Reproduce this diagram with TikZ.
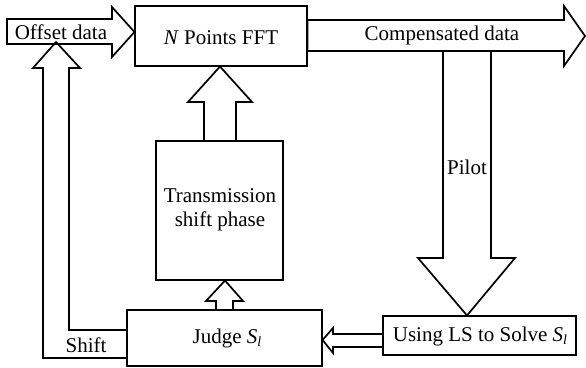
\documentclass[tikz,border=0pt]{standalone}
\usepackage{fontspec}
\setmainfont{Liberation Serif}
\newcommand{\Sl}{\textit{S}\raisebox{-0.35ex}{\fontsize{14}{14}\selectfont\textit{l}}}
\begin{document}
\begin{tikzpicture}[x=1pt,y=-1pt,
  box/.style={draw,line width=1.1pt,rectangle,inner sep=0pt,fill=white},
  blockarrow/.style={draw,line width=1.7pt,line join=miter,fill=white},
  txt/.style={font=\fontsize{21}{24}\selectfont,inner sep=0pt,align=center}]
\useasboundingbox (0,0) rectangle (586,367);
% boxes
\node[box,minimum width=172pt,minimum height=60pt] (fft) at (221,36) {};
\node[box,minimum width=127pt,minimum height=139pt] (trans) at (219.5,210.5) {};
\node[box,minimum width=195pt,minimum height=56pt] (judge) at (224.5,338) {};
\node[box,minimum width=193pt,minimum height=39pt] (ls) at (479.5,335.5) {};
% offset data arrow
\draw[blockarrow] (7,19) -- (112,19) -- (112,7) -- (fft.west |- 0,32) -- (112,57) -- (112,44) -- (7,44) -- cycle;
% compensated data arrow
\draw[blockarrow] (fft.east |- 0,51) -- (fft.east |- 0,20) -- (564,20) -- (564,6) -- (585,36) -- (564,66) -- (564,51) -- cycle;
% pilot arrow
\draw[blockarrow] (443,51) -- (491,51) -- (491,258) -- (515,258) -- (ls.north -| 467,0) -- (418,258) -- (443,258) -- cycle;
% transmission -> fft
\draw[blockarrow] (trans.north -| 204,0) -- (204,102) -- (188,102) -- (fft.south -| 220,0) -- (252,102) -- (236,102) -- (trans.north -| 236,0);
% judge -> transmission
\draw[blockarrow] (judge.north -| 216,0) -- (216,301) -- (206,301) -- (trans.south -| 225,0) -- (243,301) -- (233,301) -- (judge.north -| 233,0);
% LS -> judge
\draw[blockarrow] (ls.west |- 0,334) -- (333,334) -- (333,328) -- (judge.east |- 0,340) -- (333,353) -- (333,347) -- (ls.west |- 0,347);
% shift feedback
\draw[blockarrow,fill=none] (judge.west |- 0,358) -- (43,358) -- (43,68) -- (33,68) -- (56,42) -- (80,68) -- (69,68) -- (69,330) -- (judge.west |- 0,330);
% redraw boxes edges on top
\draw[line width=1.1pt] (fft.north west) rectangle (fft.south east);
\draw[line width=1.1pt] (judge.north west) rectangle (judge.south east);
\draw[line width=1.1pt] (ls.north west) rectangle (ls.south east);
\draw[line width=1.1pt] (trans.north west) rectangle (trans.south east);
% texts
\node[txt] (toff) at (61,32) {Offset data};
\node[txt] (tfft) at (221,38) {\textit{N} Points FFT};
\node[txt] (tcomp) at (442,35) {Compensated data};
\node[txt] (tpilot) at (467,167) {Pilot};
\node[txt] (ttrans) at (220,210) {Transmission\\shift phase};
\node[txt] (tjudge) at (227,338) {Judge \Sl};
\node[txt] (tls) at (480,336) {Using LS to Solve \Sl};
\node[txt] (tshift) at (86,345) {Shift};
\end{tikzpicture}
\end{document}
